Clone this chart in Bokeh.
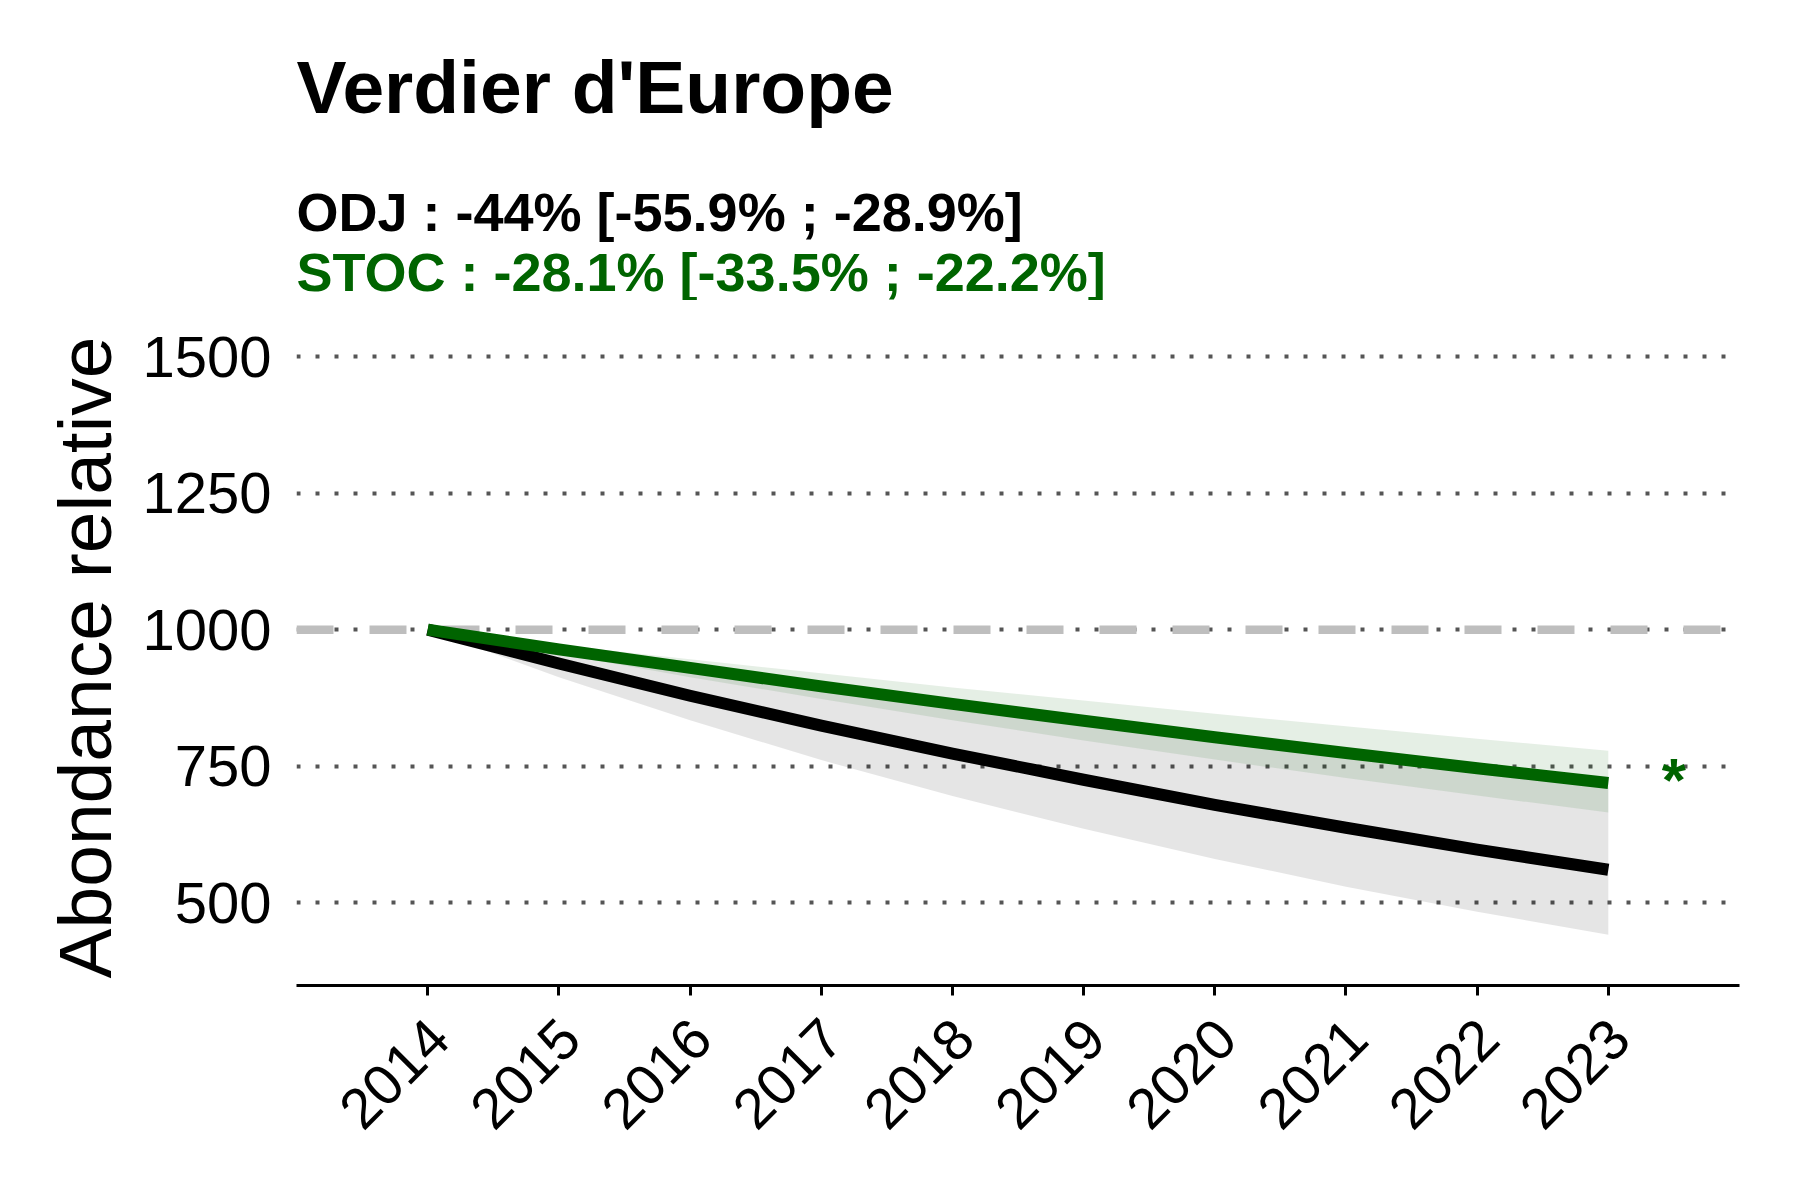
from bokeh.plotting import figure
from bokeh.layouts import column
from bokeh.models import FixedTicker, Span, Label, CustomJSTickFormatter
from bokeh.embed import file_html
from bokeh.resources import INLINE

# ---- data ----
YEARS = [2014, 2015, 2016, 2017, 2018, 2019, 2020, 2021, 2022, 2023]
ODJ_MEAN = [1000, 938, 879, 824, 773, 725, 679, 637, 597, 560]
ODJ_LOW = [1000, 913, 834, 761, 695, 635, 580, 529, 483, 441]
ODJ_HIGH = [1000, 963, 927, 893, 860, 828, 797, 767, 739, 711]
STOC_MEAN = [1000, 964, 930, 896, 864, 833, 803, 774, 746, 719]
STOC_LOW = [1000, 956, 913, 873, 834, 797, 762, 728, 696, 665]
STOC_HIGH = [1000, 972, 946, 920, 894, 870, 846, 823, 800, 778]
Y_TICKS = [500, 750, 1000, 1250, 1500]
REFERENCE = 1000
TITLE = "Verdier d'Europe"
ODJ_TEXT = "ODJ : -44% [-55.9% ; -28.9%]"
STOC_TEXT = "STOC : -28.1% [-33.5% ; -22.2%]"
Y_LABEL = "Abondance relative"
SIGNIF_X = 2023.5
SIGNIF_Y = 719
SIGNIF_TEXT = "*"

GREEN = "#006400"
FONT = "Liberation Sans"

W, H = 1800, 1200
HEADER_H = 300          # height of the title band
FRAME_TOP = 29          # extra space above the plot frame in the main figure
FRAME_LEFT = 296
X_START, X_END = 2013, 2024
Y_START, Y_END = 348, 1550
LABEL_SHIFT = 0.084     # small rightward nudge of the rotated year labels (in years)

# ---- main plot ----
p = figure(width=W, height=H - HEADER_H, x_range=(X_START, X_END), y_range=(Y_START, Y_END),
           output_backend="svg", toolbar_location=None, title=None,
           min_border_left=FRAME_LEFT, min_border_right=61, min_border_top=FRAME_TOP,
           min_border_bottom=215)
p.outline_line_color = None
p.background_fill_color = "white"
p.border_fill_color = "white"

p.xgrid.grid_line_color = None
p.ygrid.ticker = FixedTicker(ticks=Y_TICKS)
p.ygrid.grid_line_color = "#555555"
p.ygrid.grid_line_width = 4
p.ygrid.grid_line_dash = "4 15"

p.add_layout(Span(location=REFERENCE, dimension="width", line_color="#bebebe",
                  line_width=8.5, line_dash="37 36", level="underlay"))

p.varea(x=YEARS, y1=ODJ_LOW, y2=ODJ_HIGH, fill_color="black", fill_alpha=0.1)
p.varea(x=YEARS, y1=STOC_LOW, y2=STOC_HIGH, fill_color=GREEN, fill_alpha=0.1)

p.line(YEARS, ODJ_MEAN, line_color="black", line_width=12, line_cap="butt", line_join="round")
p.line(YEARS, STOC_MEAN, line_color=GREEN, line_width=12, line_cap="butt", line_join="round")

p.add_layout(Label(x=SIGNIF_X, y=SIGNIF_Y, y_offset=4, text=SIGNIF_TEXT, text_color=GREEN,
                   text_font=FONT, text_font_size="62px", text_font_style="bold",
                   text_align="center", text_baseline="middle"))

# x axis: tick marks at the years (as minor ticks), rotated labels nudged right
xa = p.xaxis[0]
xa.ticker = FixedTicker(ticks=[y + LABEL_SHIFT for y in YEARS], minor_ticks=YEARS)
xa.formatter = CustomJSTickFormatter(code="return Math.round(tick).toString()")
xa.axis_line_color = "black"
xa.axis_line_width = 3
xa.major_tick_line_color = None
xa.major_tick_in = 0
xa.major_tick_out = 0
xa.minor_tick_line_color = "black"
xa.minor_tick_line_width = 3
xa.minor_tick_in = 0
xa.minor_tick_out = 10
xa.major_label_orientation = 0.7853981634
xa.major_label_text_font = FONT
xa.major_label_text_font_size = "57px"
xa.major_label_text_color = "black"
xa.major_label_standoff = 33

ya = p.yaxis[0]
ya.ticker = FixedTicker(ticks=Y_TICKS)
ya.axis_line_color = None
ya.major_tick_line_color = None
ya.minor_tick_line_color = None
ya.major_tick_in = 0
ya.major_tick_out = 0
ya.major_label_standoff = 25
ya.major_label_text_font = FONT
ya.major_label_text_font_size = "58px"
ya.major_label_text_color = "black"
ya.axis_label = Y_LABEL
ya.axis_label_text_font = FONT
ya.axis_label_text_font_size = "75px"
ya.axis_label_text_font_style = "normal"
ya.axis_label_text_color = "black"
ya.axis_label_standoff = 12

# ---- header (title + subtitles), frame aligned with the main plot ----
head = figure(width=W, height=HEADER_H, x_range=p.x_range, y_range=(0, HEADER_H),
              output_backend="svg", toolbar_location=None, title=None,
              x_axis_location=None, y_axis_location=None,
              min_border_left=0, min_border_right=0, min_border_top=0, min_border_bottom=0)
head.outline_line_color = None
head.background_fill_color = "white"
head.border_fill_color = "white"
head.grid.visible = False

def header_text(txt, baseline_from_top, size, color):
    head.add_layout(Label(x=X_START, y=HEADER_H - baseline_from_top, text=txt,
                          text_font=FONT, text_font_size=size, text_font_style="bold",
                          text_color=color, text_align="left", text_baseline="alphabetic"))

header_text(TITLE, 86, "75px", "black")
header_text(ODJ_TEXT, 211.5, "54px", "black")
header_text(STOC_TEXT, 271, "54px", GREEN)

layout = column(head, p, spacing=0)
open("out.html", "w").write(file_html(layout, INLINE))
